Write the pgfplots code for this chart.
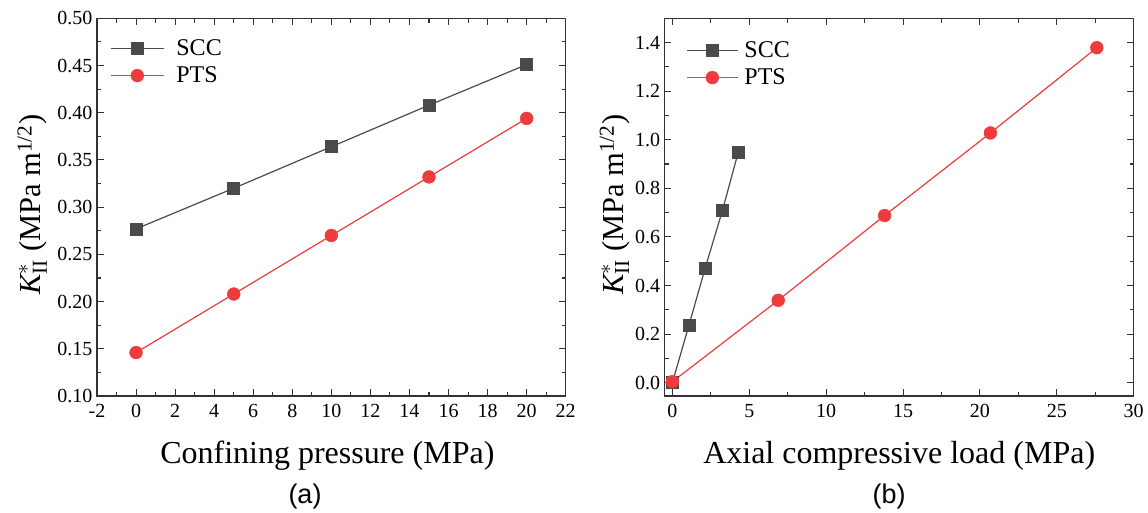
\documentclass[border=0pt]{standalone}
\usepackage{fontspec}
\setmainfont{Liberation Serif}
\setsansfont{Liberation Serif}
\newfontfamily\arialfont{Liberation Sans}
\newfontfamily\timesfont{Liberation Serif}
\usepackage{amsmath}
\usepackage{pgfplots}
\pgfplotsset{compat=1.18}
\definecolor{sccc}{HTML}{4A4A4A}
\definecolor{ptsc}{HTML}{EE3B3D}
\definecolor{axc}{HTML}{333333}

\pgfplotstableread{
x y
0 0.277
5 0.320
10 0.364
15 0.408
20 0.451
}\sccA
\pgfplotstableread{
x y
0 0.146
5 0.208
10 0.270
15 0.332
20 0.394
}\ptsA
\pgfplotstableread{
x y
0 0.000
1.07 0.235
2.13 0.471
3.26 0.710
4.28 0.948
}\sccB
\pgfplotstableread{
x y
0 0.004
6.88 0.339
13.8 0.688
20.68 1.028
27.6 1.379
}\ptsB

\pgfplotsset{
  common/.style={
    scale only axis,
    anchor=south west,
    axis line style={line width=1.5pt, color=axc},
    every tick/.style={line width=1.1pt, color=axc},
    major tick length=6.7pt,
    minor tick length=4.2pt,
    tick align=inside,
    minor x tick num=1,
    minor y tick num=1,
    tick label style={font=\timesfont\fontsize{20}{24}\selectfont, color=black},
    xticklabel style={yshift=-5pt},
    yticklabel style={xshift=-1pt},
    /pgf/number format/assume math mode=true,
    xlabel style={font=\timesfont\fontsize{32}{38}\selectfont, anchor=base},
    ylabel style={font=\timesfont\fontsize{30.5}{36}\selectfont, rotate=0, anchor=base},
    legend cell align=left,
    legend style={draw=none, fill=none, font=\timesfont\fontsize{24}{28}\selectfont,
      anchor=north west, row sep=6pt, inner sep=0pt},
    scc/.style={color=sccc, line width=1.2pt, mark=square*, mark size=6pt,
      mark options={fill=sccc, draw=sccc, line width=0.5pt}},
    pts/.style={color=ptsc, line width=1.2pt, mark=*, mark size=6.4pt,
      mark options={fill=ptsc, draw=ptsc, line width=0.5pt}},
  },
}

\begin{document}
\begin{tikzpicture}
\path[use as bounding box] (0pt,0pt) rectangle (1148pt,-512pt);

\begin{axis}[common,
  at={(97pt,-396pt)},
  width=468.7pt, height=377.7pt,
  xmin=-2, xmax=22, ymin=0.1, ymax=0.5,
  xtick={-2,0,2,4,6,8,10,12,14,16,18,20,22},
  ytick={0.10,0.15,0.20,0.25,0.30,0.35,0.40,0.45,0.50},
  yticklabel style={/pgf/number format/.cd, fixed, fixed zerofill, precision=2},
  xlabel={Confining pressure (MPa)},
  ylabel={$\text{\timesfont\itshape K}^{*}_{\text{\timesfont II}}$ (MPa m\textsuperscript{1/2})},
  xlabel style={at={(axis description cs:0.4915,0)}, yshift=-67pt},
  ylabel style={at={(axis description cs:-0.1201,0.5066)}},
  legend image code/.code={\draw[mark repeat=2, mark phase=2] plot coordinates {(0pt,0pt) (26.5pt,0pt) (53pt,0pt)};},
  legend style={at={(axis description cs:0,1)}, xshift=13pt, yshift=-19pt, column sep=10pt},
]
\addplot[scc] table {\sccA};
\addlegendentry{SCC}
\addplot[pts] table {\ptsA};
\addlegendentry{PTS}
\end{axis}

\begin{axis}[common,
  at={(664.7pt,-396pt)},
  width=469pt, height=377.7pt,
  xmin=-0.5, xmax=30, ymin=-0.055, ymax=1.5,
  xtick={0,5,10,15,20,25,30},
  ytick={0,0.2,0.4,0.6,0.8,1.0,1.2,1.4},
  yticklabel style={/pgf/number format/.cd, fixed, fixed zerofill, precision=1},
  xlabel={Axial compressive load (MPa)},
  ylabel={$\text{\timesfont\itshape K}^{*}_{\text{\timesfont II}}$ (MPa m\textsuperscript{1/2})},
  xlabel style={at={(axis description cs:0.5,0)}, yshift=-67pt},
  ylabel style={at={(axis description cs:-0.0889,0.5066)}},
  legend image code/.code={\draw[mark repeat=2, mark phase=2] plot coordinates {(0pt,0pt) (25.5pt,0pt) (51pt,0pt)};},
  legend style={at={(axis description cs:0,1)}, xshift=21.3pt, yshift=-21pt, column sep=4pt},
]
\addplot[scc] table {\sccB};
\addlegendentry{SCC}
\addplot[pts] table {\ptsB};
\addlegendentry{PTS}
\end{axis}

\node[font=\arialfont\fontsize{27}{32}\selectfont, anchor=base] at (305pt,-503pt) {(a)};
\node[font=\arialfont\fontsize{27}{32}\selectfont, anchor=base] at (889pt,-503pt) {(b)};
\end{tikzpicture}
\end{document}
